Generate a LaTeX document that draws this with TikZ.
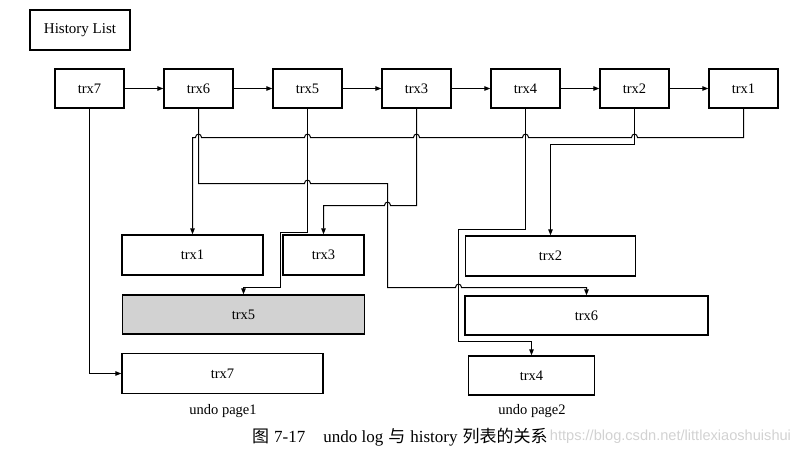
\documentclass[tikz,border=0pt]{standalone}
\usepackage{fontspec}
\setmainfont{Liberation Serif}
\newfontfamily\cjk{Noto Sans CJK SC}
\newfontfamily\wmfont{Liberation Sans}
\usetikzlibrary{arrows.meta}
\begin{document}
\begin{tikzpicture}[x=1pt,y=-1pt,
  box/.style={draw, line width=1.4pt, minimum height=39pt, inner sep=0pt, font=\fontsize{14.5}{17}\selectfont},
  tbox/.style={box, minimum width=69pt},
  link/.style={line width=1pt, -{Triangle[length=6pt,width=4.5pt]}},
  hopr/.style 2 args={insert path={-- (#1-3,#2) .. controls (#1-3,#2-4.5) and (#1+3,#2-4.5) .. (#1+3,#2)}},
  hopl/.style 2 args={insert path={-- (#1+3,#2) .. controls (#1+3,#2-4.5) and (#1-3,#2-4.5) .. (#1-3,#2)}},
  lbl/.style={font=\fontsize{14.5}{17}\selectfont, inner sep=0pt}
]
\useasboundingbox (0,0) rectangle (796,466);

% header
\node[box, minimum width=100pt, minimum height=40pt, font=\fontsize{15}{18}\selectfont] (hl) at (80,30) {History List};

% history list
\node[tbox] (t7) at (89.5,88.5) {trx7};
\node[tbox] (t6) at (198.5,88.5) {trx6};
\node[tbox] (t5) at (307.5,88.5) {trx5};
\node[tbox] (t3) at (416.5,88.5) {trx3};
\node[tbox] (t4) at (525.5,88.5) {trx4};
\node[tbox] (t2) at (634.5,88.5) {trx2};
\node[tbox] (t1) at (743.5,88.5) {trx1};

\draw[link] (t7) -- (t6);
\draw[link] (t6) -- (t5);
\draw[link] (t5) -- (t3);
\draw[link] (t3) -- (t4);
\draw[link] (t4) -- (t2);
\draw[link] (t2) -- (t1);

% undo pages
\node[box, minimum width=141pt, minimum height=40pt] (b1) at (192.5,255) {trx1};
\node[box, minimum width=81pt, minimum height=40pt] (b3) at (323.5,255) {trx3};
\node[box, fill=gray!35, minimum width=242pt] (b5) at (243.5,314.5) {trx5};
\node[box, minimum width=201pt, minimum height=40pt] (b7) at (222.5,373.5) {trx7};
\node[box, minimum width=170pt, minimum height=40pt] (b2) at (550.5,256) {trx2};
\node[box, minimum width=243pt] (b6) at (586.5,315.5) {trx6};
\node[box, minimum width=126pt] (b4) at (531.5,375.5) {trx4};

% connectors
\draw[link] (t7.south) |- (b7.west);
\draw[link] (t1.south) -- (743.5,137.5) [hopl={634.5}{137.5}] [hopl={525.5}{137.5}] [hopl={416.5}{137.5}] [hopl={307.5}{137.5}] [hopl={198.5}{137.5}] -| (b1.north);
\draw[link] (t6.south) -- (198.5,183.5) [hopr={307.5}{183.5}] -- (387.5,183.5) -- (387.5,287.5) [hopr={458.5}{287.5}] -| (b6.north);
\draw[link] (t5.south) -- (307.5,232.5) -- (280.5,232.5) -- (280.5,287.5) -| (b5.north);
\draw[link] (t3.south) -- (416.5,205.5) [hopl={387.5}{205.5}] -| (b3.north);
\draw[link] (t4.south) -- (525.5,229.5) -- (458.5,229.5) -- (458.5,341.5) -| (b4.north);
\draw[link] (t2.south) -- (634.5,144.5) -| (b2.north);

% labels
\node[lbl] (p1) at (223,411) {undo page1};
\node[lbl] (p2) at (532,411) {undo page2};
\node[anchor=west, inner sep=0pt, font=\fontsize{17}{20}\selectfont] (cap) at (252,437) {{\cjk 图}\hspace{5pt}7-17\hspace{18pt}undo log\hspace{5pt}{\cjk 与}\hspace{5pt}history\hspace{5pt}{\cjk 列表的关系}};
\node[anchor=west, text=gray!35, inner sep=0pt, font=\wmfont\fontsize{14.6}{18}\selectfont] (wm) at ([xshift=2pt]cap.east) {https://blog.csdn.net/littlexiaoshuishui};
\end{tikzpicture}
\end{document}
